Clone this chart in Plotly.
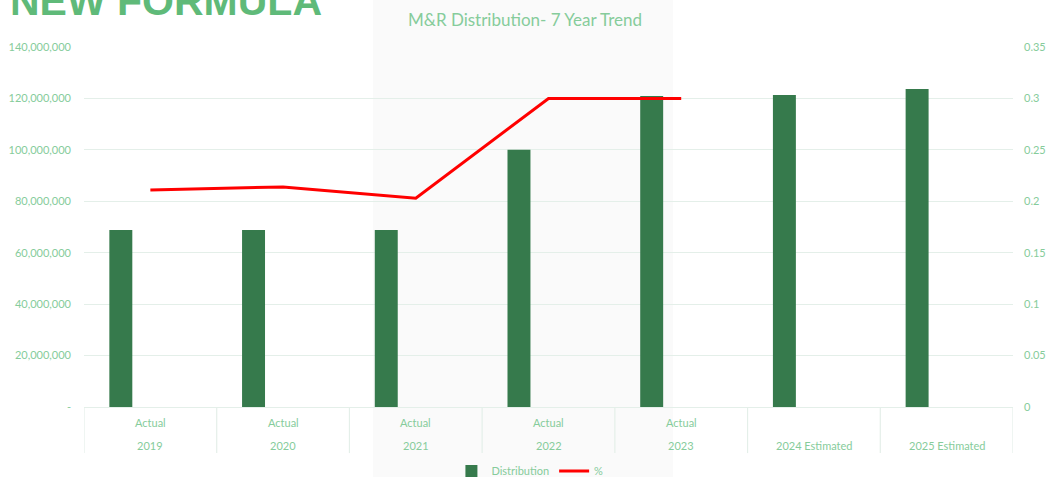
import plotly.graph_objects as go

years = ["2019", "2020", "2021", "2022", "2023", "2024 Estimated", "2025 Estimated"]
status = ["Actual", "Actual", "Actual", "Actual", "Actual", "", ""]
distribution = [68800000, 68800000, 68800000, 100000000, 120900000, 121300000, 123700000]
pct = [0.211, 0.214, 0.203, 0.30, 0.30]

y_ticks_left = [0, 20000000, 40000000, 60000000, 80000000, 100000000, 120000000, 140000000]
y_ticks_left_text = ["-", "20,000,000", "40,000,000", "60,000,000", "80,000,000",
                     "100,000,000", "120,000,000", "140,000,000"]
y_ticks_right = [0, 0.05, 0.1, 0.15, 0.2, 0.25, 0.3, 0.35]
y_ticks_right_text = ["0", "0.05", "0.1", "0.15", "0.2", "0.25", "0.3", "0.35"]

FONT = "Lato, 'Open Sans', sans-serif"
LABEL = "#86cc9b"
GRID = "#e4efe9"
BAR = "#367a4c"

xidx = list(range(len(years)))

fig = go.Figure()
fig.add_trace(go.Bar(
    x=xidx, y=distribution, name="Distribution",
    marker=dict(color=BAR, line=dict(width=0)),
    width=0.173, offset=-0.309, yaxis="y",
))
fig.add_trace(go.Scatter(
    x=xidx[:len(pct)], y=pct, name="%", mode="lines",
    line=dict(color="#ff0000", width=3), yaxis="y2",
))

shapes = [
    dict(type="rect", xref="paper", yref="paper", x0=0.311, x1=0.634, y0=-0.2, y1=1.14,
         fillcolor="#fafafa", line=dict(width=0), layer="below"),
]
for i in range(len(years) + 1):
    shapes.append(dict(type="line", xref="x", yref="paper", x0=i - 0.5, x1=i - 0.5,
                       y0=0, y1=-0.128, line=dict(color=GRID, width=1.2)))

annotations = [
    dict(text="<b>NEW FORMULA</b>", xref="paper", yref="paper", x=-0.082, y=(407 - 26) / 360,
         xanchor="left", yanchor="bottom", showarrow=False,
         font=dict(family="Liberation Sans, Arial", size=41, color="#5fba79")),
    dict(text="M&R Distribution- 7 Year Trend", xref="paper", yref="paper",
         x=(525 - 84) / 929, y=(407 - 19) / 360, xanchor="center", yanchor="middle",
         showarrow=False, font=dict(family=FONT, size=17, color=LABEL)),
]
for i, (s, yr) in enumerate(zip(status, years)):
    if s:
        annotations.append(dict(text=s, xref="x", yref="paper", x=i, y=(407 - 422) / 360,
                                xanchor="center", yanchor="middle", showarrow=False,
                                font=dict(family=FONT, size=11, color=LABEL)))
    annotations.append(dict(text=yr, xref="x", yref="paper", x=i, y=(407 - 445) / 360,
                            xanchor="center", yanchor="middle", showarrow=False,
                            font=dict(family=FONT, size=11, color=LABEL)))

fig.update_layout(
    width=1050, height=477,
    margin=dict(l=84, r=37, t=47, b=70, autoexpand=False),
    paper_bgcolor="white", plot_bgcolor="rgba(0,0,0,0)",
    font=dict(family=FONT, color=LABEL, size=11),
    showlegend=True,
    legend=dict(orientation="h", x=0.48, xanchor="center", y=-0.178, yanchor="middle",
                font=dict(family=FONT, size=11, color=LABEL), bgcolor="rgba(0,0,0,0)",
                itemwidth=30),
    xaxis=dict(range=[-0.5, len(years) - 0.5], tickvals=xidx, ticktext=[""] * len(years),
               showgrid=False, zeroline=False, showline=True, linecolor=GRID, linewidth=1.2,
               fixedrange=True),
    yaxis=dict(range=[0, 140000000], tickvals=y_ticks_left, ticktext=y_ticks_left_text,
               showgrid=True, gridcolor=GRID, gridwidth=1, zeroline=False,
               tickfont=dict(size=11, color=LABEL), ticklabelstandoff=12),
    yaxis2=dict(range=[0, 0.35], tickvals=y_ticks_right, ticktext=y_ticks_right_text,
                overlaying="y", side="right", showgrid=False, zeroline=False,
                tickfont=dict(size=11, color=LABEL), ticklabelstandoff=10),
    shapes=shapes, annotations=annotations,
)

fig.write_html("out.html", config={"displayModeBar": False},
               post_script="document.body.style.margin='0';document.body.style.overflow='hidden';")
